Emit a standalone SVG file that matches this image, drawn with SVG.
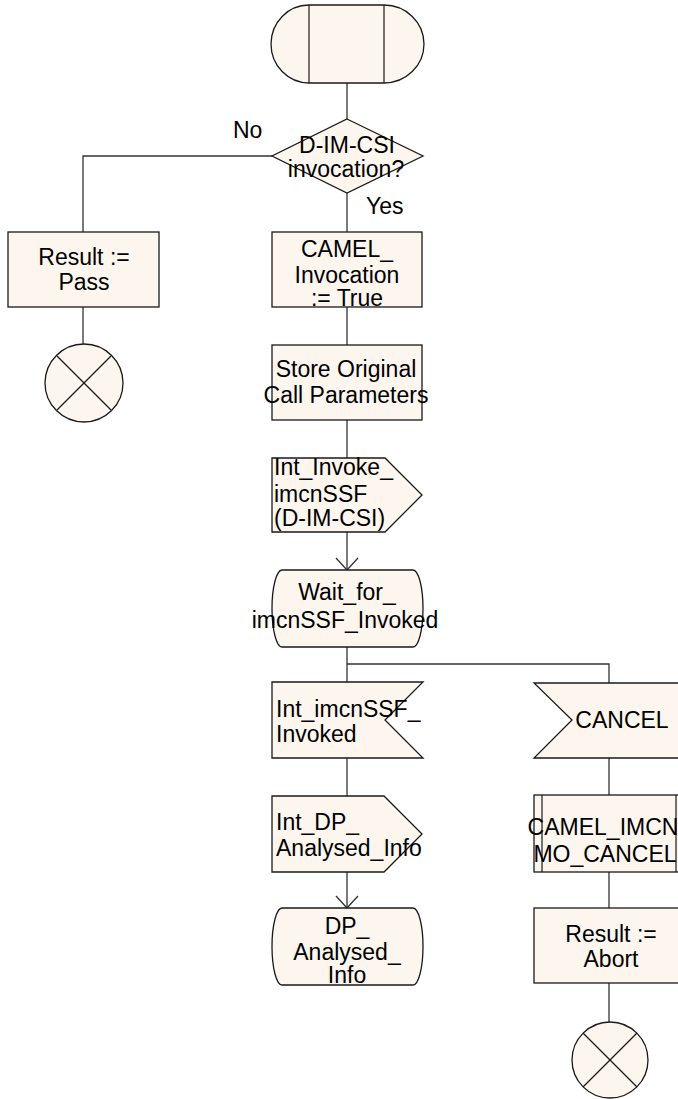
<svg xmlns="http://www.w3.org/2000/svg" width="678" height="1099" viewBox="0 0 678 1099">
<style>
.s{fill:#FCF6EF;stroke:#1a1a1a;stroke-width:1.3}
.c{fill:none;stroke:#333;stroke-width:1.3}
.x{fill:none;stroke:#1a1a1a;stroke-width:1.2}
text{font-family:"Liberation Sans",Arial,sans-serif;font-size:23px;fill:#000}
.m{text-anchor:middle}
</style>
<defs>
<marker id="arr" viewBox="0 0 24 14" refX="12" refY="13" markerWidth="24" markerHeight="14" markerUnits="userSpaceOnUse" orient="0">
<polyline points="1,1 12,13 23,1" fill="none" stroke="#333" stroke-width="1.3"/>
</marker>
</defs>
<rect width="678" height="1099" fill="#fff"/>
<g id="connectors">
<line class="c" x1="347" y1="83" x2="347" y2="119"/>
<polyline class="c" points="272,156 83,156 83,232"/>
<line class="c" x1="347" y1="193" x2="347" y2="232"/>
<line class="c" x1="83" y1="307" x2="83" y2="344"/>
<line class="c" x1="347" y1="307" x2="347" y2="345"/>
<line class="c" x1="347" y1="420" x2="347" y2="458"/>
<line class="c" x1="347" y1="532" x2="347" y2="570" marker-end="url(#arr)"/>
<line class="c" x1="347" y1="647" x2="347" y2="682"/>
<polyline class="c" points="347,664 609,664 609,683"/>
<line class="c" x1="347" y1="758" x2="347" y2="796"/>
<line class="c" x1="347" y1="872" x2="347" y2="908" marker-end="url(#arr)"/>
<line class="c" x1="609" y1="758" x2="609" y2="795"/>
<line class="c" x1="609" y1="872" x2="609" y2="908"/>
<line class="c" x1="609" y1="983" x2="609" y2="1022"/>
<text x="233" y="138">No</text>
<text x="366" y="214">Yes</text>
</g>
<g id="start">
<path class="s" d="M309,5 H384 A40,39 0 0 1 384,83 H309 A38,39 0 0 1 309,5 Z"/>
<line class="x" x1="309" y1="5" x2="309" y2="83"/>
<line class="x" x1="384" y1="5" x2="384" y2="83"/>
</g>
<g id="decision">
<polygon class="s" points="347,119 423,156 347,193 272,156"/>
<text class="m" x="347" y="153">D-IM-CSI</text>
<text class="m" x="346" y="177">invocation?</text>
</g>
<g id="result-pass">
<rect class="s" x="8" y="232" width="151" height="75"/>
<text class="m" x="84" y="265">Result :=</text>
<text class="m" x="84" y="290">Pass</text>
</g>
<g id="stop-left">
<circle class="s" cx="84" cy="383" r="39"/>
<line class="x" x1="57" y1="356" x2="111" y2="410"/>
<line class="x" x1="111" y1="356" x2="57" y2="410"/>
</g>
<g id="camel-invocation">
<rect class="s" x="272" y="232" width="150" height="75"/>
<text class="m" x="347" y="257">CAMEL_</text>
<text class="m" x="347" y="283">Invocation</text>
<text class="m" x="347" y="306">:= True</text>
</g>
<g id="store">
<rect class="s" x="272" y="345" width="150" height="75"/>
<text class="m" x="346" y="377">Store Original</text>
<text class="m" x="346" y="403">Call Parameters</text>
</g>
<g id="int-invoke">
<polygon class="s" points="272,458 385,458 422,495 385,532 272,532"/>
<text x="274" y="475">Int_Invoke_</text>
<text x="274" y="502">imcnSSF</text>
<text x="274" y="526">(D-IM-CSI)</text>
</g>
<g id="wait-state">
<path class="s" d="M282,570 H413 A10,38.5 0 0 1 413,647 H282 A10,38.5 0 0 1 282,570 Z"/>
<text class="m" x="347" y="600">Wait_for_</text>
<text class="m" x="345" y="628">imcnSSF_Invoked</text>
</g>
<g id="int-imcnssf-invoked">
<polygon class="s" points="272,682 423,682 385,720 423,758 272,758"/>
<text x="276" y="717">Int_imcnSSF_</text>
<text x="276" y="742">Invoked</text>
</g>
<g id="int-dp">
<polygon class="s" points="272,796 384,796 422,834 384,872 272,872"/>
<text x="276" y="830">Int_DP_</text>
<text x="276" y="856">Analysed_Info</text>
</g>
<g id="dp-state">
<path class="s" d="M282,908 H413 A10,38.5 0 0 1 413,985 H282 A10,38.5 0 0 1 282,908 Z"/>
<text class="m" x="347" y="934">DP_</text>
<text class="m" x="347" y="960">Analysed_</text>
<text class="m" x="347" y="983">Info</text>
</g>
<g id="cancel">
<polygon class="s" points="534,683 684,683 684,758 534,758 572,720"/>
<text class="m" x="622" y="728">CANCEL</text>
</g>
<g id="camel-imcn-mo-cancel">
<rect class="s" x="534" y="795" width="150" height="77"/>
<line class="x" x1="542" y1="795" x2="542" y2="872"/>
<line class="x" x1="676" y1="795" x2="676" y2="872"/>
<text class="m" x="603" y="835">CAMEL_IMCN</text>
<text class="m" x="605" y="862">MO_CANCEL</text>
</g>
<g id="result-abort">
<rect class="s" x="534" y="908" width="150" height="75"/>
<text class="m" x="611" y="942">Result :=</text>
<text class="m" x="611" y="967">Abort</text>
</g>
<g id="stop-right">
<circle class="s" cx="610" cy="1060" r="38"/>
<line class="x" x1="583" y1="1033" x2="637" y2="1087"/>
<line class="x" x1="637" y1="1033" x2="583" y2="1087"/>
</g>
</svg>
